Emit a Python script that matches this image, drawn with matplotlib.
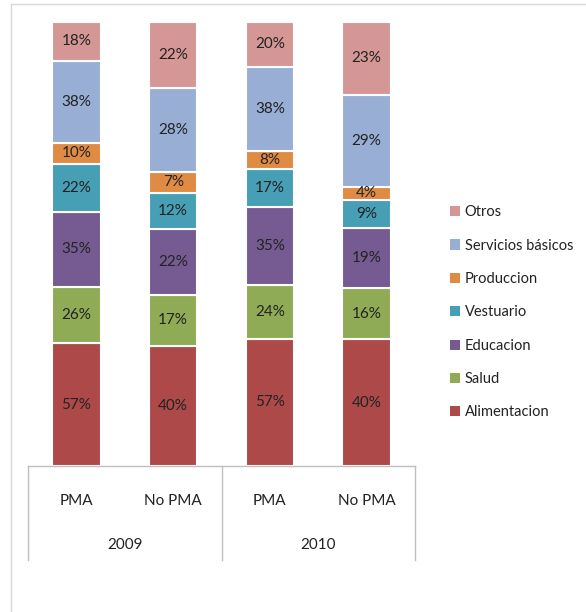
import numpy as np
import matplotlib.pyplot as plt
from matplotlib.patches import Patch
from matplotlib.lines import Line2D
import matplotlib.transforms as mtransforms

plt.rcParams['font.family'] = ['Lato', 'DejaVu Sans']

# Data (percent labels per group)
groups = ['PMA', 'No PMA', 'PMA', 'No PMA']
years = ['2009', '2010']
series = ['Alimentacion', 'Salud', 'Educacion', 'Vestuario', 'Produccion', 'Servicios básicos', 'Otros']
alimentacion = [57, 40, 57, 40]
salud = [26, 17, 24, 16]
educacion = [35, 22, 35, 19]
vestuario = [22, 12, 17, 9]
produccion = [10, 7, 8, 4]
servicios = [38, 28, 38, 29]
otros = [18, 22, 20, 23]
colors = ['#AD4A49', '#8FAB55', '#765B92', '#479FB6', '#E08B44', '#98AED4', '#D59796']

values = np.array([alimentacion, salud, educacion, vestuario, produccion, servicios, otros], dtype=float)
shares = values / values.sum(axis=0)

W, H = 586, 612
fig = plt.figure(figsize=(W / 100, H / 100), dpi=100)
ax = fig.add_axes([28 / W, 1 - 466 / H, (415 - 28) / W, (466 - 22) / H])

x = np.arange(len(groups))
bottom = np.zeros(len(groups))
for i, name in enumerate(series):
    ax.bar(x, shares[i], bottom=bottom, width=0.5, color=colors[i],
           edgecolor='white', linewidth=1.5, label=name)
    for j in range(len(groups)):
        ax.text(x[j], bottom[j] + shares[i][j] / 2, f'{int(values[i][j])}%',
                ha='center', va='center', fontsize=11, color='#222222')
    bottom += shares[i]

ax.set_xlim(-0.5, len(groups) - 0.5)
ax.set_ylim(0, 1)
ax.set_yticks([])
for s in ['top', 'right', 'left']:
    ax.spines[s].set_visible(False)
ax.spines['bottom'].set_color('#bfbfbf')
ax.spines['bottom'].set_linewidth(1)
ax.set_xticks(x)
ax.set_xticklabels(groups, fontsize=11, color='#222222')
ax.tick_params(axis='x', length=0, pad=25)
for lbl in ax.get_xticklabels():
    lbl.set_va('center')

# two-level category axis
trans = mtransforms.blended_transform_factory(ax.transAxes, ax.transAxes)
depth = (560 - 466) / (466 - 22)
for xs in [0, 0.5, 1]:
    ax.add_line(Line2D([xs, xs], [0, -depth], transform=trans, color='#bfbfbf',
                       linewidth=1, clip_on=False))
for k, yr in enumerate(years):
    ax.text(0.25 + 0.5 * k, -(545 - 466) / (466 - 22), yr, transform=trans,
            ha='center', va='center', fontsize=11, color='#222222')

# outer chart frame
fig.add_artist(Line2D([11 / W, 1], [1 - 4 / H, 1 - 4 / H], color='#d9d9d9', linewidth=1))
fig.add_artist(Line2D([11 / W, 11 / W], [0, 1 - 4 / H], color='#d9d9d9', linewidth=1))

handles = [Patch(facecolor=c, edgecolor='none', label=n) for n, c in zip(series, colors)][::-1]
fig.legend(handles=handles, loc='upper left', bbox_to_anchor=(437 / W, 1 - 192 / H),
           frameon=False, fontsize=10.5, handlelength=0.7, handleheight=0.7,
           handletextpad=0.3, labelspacing=1.33, labelcolor='#222222')

fig.savefig('out.png', dpi=100)
